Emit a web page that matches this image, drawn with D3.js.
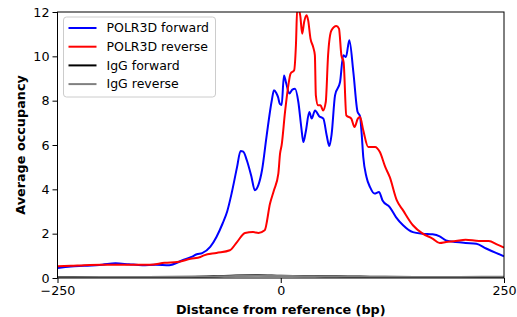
<!DOCTYPE html>
<html>
<head>
<meta charset="utf-8">
<script src="https://cdn.jsdelivr.net/npm/d3@7"></script>
<style>
  body { margin: 0; background: #fff; }
  text { font-family: "DejaVu Sans", sans-serif; }
</style>
</head>
<body>
<div id="content"></div>
<script>
// positions (bp) and average occupancy
var fwdPos = [-250,-235,-220,-200,-185,-170,-155,-140,-125,-110,-100,-94,-88,-79,-72,-65,-60,-55,-49,-45,-42,-38,-33,-29,-25,-21,-16,-10,-7.6,-5,-3,-1,1,3.6,6,9.6,13,16,19.7,23,25.3,28,32,34.6,38.4,43,47.7,51.4,54.4,57,60.8,66.4,70,73,76.8,81.3,86,88.8,90.6,92.4,96,100,105,110,114,122,129,137,148,159,170,178,185,196,207,219,230,241,250];
var fwdVal = [0.45,0.52,0.55,0.60,0.66,0.62,0.58,0.60,0.58,0.80,0.95,1.07,1.12,1.40,1.85,2.47,3.0,3.82,4.99,5.73,5.70,5.31,4.6,3.96,4.2,4.86,6.36,8.02,8.47,8.35,8.16,7.85,7.8,9.14,8.8,8.32,8.5,8.54,7.94,6.8,6.13,6.6,7.49,7.19,7.56,7.3,7.19,6.44,5.95,6.5,8.24,8.84,10.05,9.97,10.72,9.29,7.5,7.3,6.51,5.46,4.56,4.10,3.81,3.88,3.50,3.20,2.75,2.38,2.07,2.0,1.97,1.88,1.70,1.62,1.58,1.55,1.33,1.13,0.98];

var revPos = [-250,-235,-220,-200,-180,-160,-146,-130,-116,-101,-90,-86,-72,-57,-49,-40,-31,-25,-18,-12,-7.6,-2.7,-0.8,1,4.8,8.5,11,15,17,18.5,21.8,24,26.2,28.9,30.7,33.3,36.3,38.2,39.3,41.8,44.5,47.4,50.4,53,56.7,62.3,65.2,67.9,70.4,73.4,79,82.6,86.3,88.8,92.4,98,105.6,111,117,122,130,137,148,159,170,178,185,196,207,222,233,242,250];
var revVal = [0.53,0.55,0.58,0.60,0.60,0.60,0.60,0.69,0.72,0.87,0.95,1.02,1.13,1.25,1.62,2.03,2.07,2.03,2.15,3.36,3.96,4.71,5.61,5.99,7.49,8.69,9.22,9.37,10.5,12.2,11.85,11.02,11.55,11.85,11.62,10.8,10.42,10.05,8.24,7.79,7.79,7.56,7.94,10.05,11.17,11.37,11.25,10.05,9.74,7.34,7.19,6.81,7.19,7.26,6.66,5.91,5.91,5.68,5.01,4.56,3.50,3.05,2.38,2.0,1.78,1.58,1.62,1.67,1.73,1.67,1.67,1.52,1.37];

var iggPos = [-250,-200,-150,-100,-75,-50,-25,0,25,50,75,100,150,200,250];
var iggFwdVal = [0.04,0.04,0.05,0.06,0.08,0.11,0.12,0.10,0.09,0.08,0.07,0.06,0.05,0.05,0.05];
var iggRevVal = [0.03,0.04,0.04,0.05,0.06,0.09,0.10,0.09,0.08,0.07,0.06,0.05,0.04,0.05,0.06];

var seriesNames = ["POLR3D forward","POLR3D reverse","IgG forward","IgG reverse"];
var seriesColors = ["#0000ff","#ff0000","#000000","#808080"];
var xTicks = [-250, 0, 250];
var yTicks = [0, 2, 4, 6, 8, 10, 12];

var W = 517, H = 317;
var margin = {top: 12, right: 13, bottom: 39, left: 57.5};
var width = W - margin.left - margin.right;
var height = H - margin.top - margin.bottom;

var svg = d3.select("#content").append("svg")
    .attr("width", W)
    .attr("height", H);

var g = svg.append("g")
    .attr("transform", "translate(" + margin.left + "," + margin.top + ")");

var x = d3.scaleLinear().domain([-250, 250]).range([0, width]);
var y = d3.scaleLinear().domain([0, 12]).range([height, 0]);

g.append("clipPath").attr("id", "clip")
  .append("rect").attr("width", width).attr("height", height);

function zip(p, v) { return p.map(function(d, i) { return {x: d, y: v[i]}; }); }

var series = [
  zip(fwdPos, fwdVal),
  zip(revPos, revVal),
  zip(iggPos, iggFwdVal),
  zip(iggPos, iggRevVal)
];

var line = d3.line()
    .x(function(d) { return x(d.x); })
    .y(function(d) { return y(d.y); })
    .curve(d3.curveMonotoneX);

var drawOrder = [2, 3, 0, 1];
drawOrder.forEach(function(i) {
  g.append("path")
    .datum(series[i])
    .attr("clip-path", "url(#clip)")
    .attr("fill", "none")
    .attr("stroke", seriesColors[i])
    .attr("stroke-width", 2)
    .attr("stroke-linejoin", "round")
    .attr("d", line);
});

// axes
var xAxis = g.append("g")
    .attr("transform", "translate(0," + height + ")")
    .call(d3.axisBottom(x).tickValues(xTicks).tickSize(5).tickPadding(3));
var yAxis = g.append("g")
    .call(d3.axisLeft(y).tickValues(yTicks).tickSize(5).tickPadding(3));

[xAxis, yAxis].forEach(function(a) {
  a.selectAll("text").attr("font-size", "12.7px").attr("fill", "#000")
    .style("font-family", "'DejaVu Sans', sans-serif");
  a.selectAll("line").attr("stroke", "#000").attr("stroke-width", 1);
  a.select(".domain").remove();
});

// frame
g.append("rect")
    .attr("width", width).attr("height", height)
    .attr("fill", "none").attr("stroke", "#000").attr("stroke-width", 1);

svg.append("text")
    .attr("x", margin.left + width / 2)
    .attr("y", 314)
    .attr("text-anchor", "middle")
    .attr("font-size", "12.8px")
    .attr("font-weight", "bold")
    .text("Distance from reference (bp)");

svg.append("text")
    .attr("transform", "translate(25," + (margin.top + height / 2) + ") rotate(-90)")
    .attr("text-anchor", "middle")
    .attr("font-size", "12.8px")
    .attr("font-weight", "bold")
    .text("Average occupancy");

// legend
var lg = g.append("g").attr("transform", "translate(6,5)");
lg.append("rect")
    .attr("width", 152).attr("height", 80).attr("rx", 3)
    .attr("fill", "#fff").attr("fill-opacity", 0.8)
    .attr("stroke", "#cccccc").attr("stroke-width", 1);
seriesNames.forEach(function(n, i) {
  var yy = 11 + i * 18.7;
  lg.append("line")
    .attr("x1", 5).attr("x2", 33).attr("y1", yy).attr("y2", yy)
    .attr("stroke", seriesColors[i]).attr("stroke-width", 2);
  lg.append("text")
    .attr("x", 43).attr("y", yy)
    .attr("dy", "0.35em")
    .attr("font-size", "12.5px")
    .text(n);
});
</script>
</body>
</html>
